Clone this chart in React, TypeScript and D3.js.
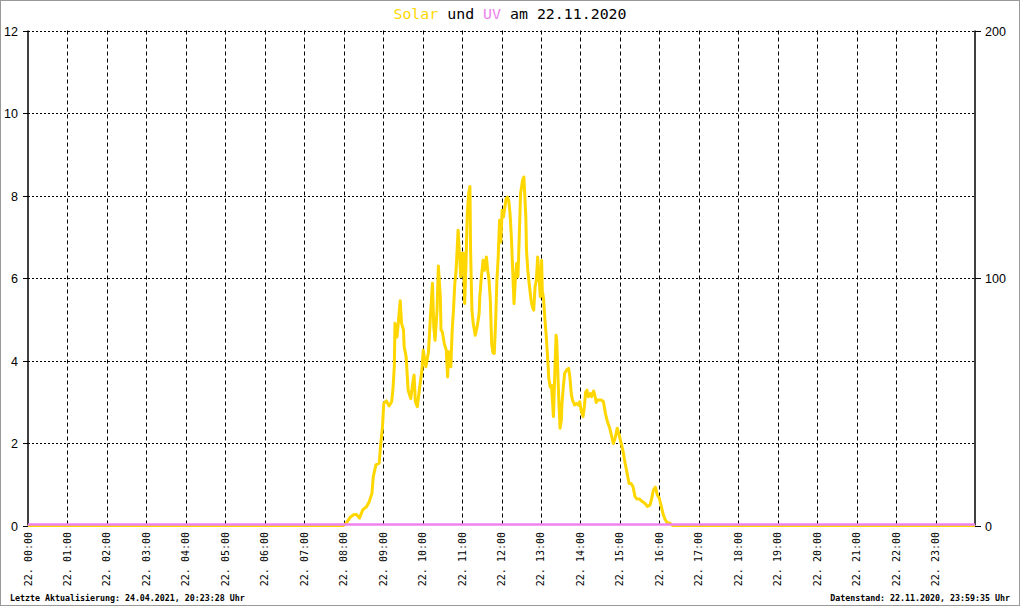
import React, { useEffect, useRef } from "react";
import * as d3 from "d3";

const hourLabels: string[] = [
  "22. 00:00", "22. 01:00", "22. 02:00", "22. 03:00", "22. 04:00", "22. 05:00",
  "22. 06:00", "22. 07:00", "22. 08:00", "22. 09:00", "22. 10:00", "22. 11:00",
  "22. 12:00", "22. 13:00", "22. 14:00", "22. 15:00", "22. 16:00", "22. 17:00",
  "22. 18:00", "22. 19:00", "22. 20:00", "22. 21:00", "22. 22:00", "22. 23:00",
];
const leftTicks: number[] = [0, 2, 4, 6, 8, 10, 12];
const rightTicks: number[] = [0, 100, 200];

const solarTimes: string[] = [
  "00:00", "08:00", "08:05", "08:10", "08:15", "08:19", "08:24", "08:29", "08:35", "08:39",
  "08:43", "08:45", "08:49", "08:54", "08:56", "08:59", "09:01", "09:05", "09:09", "09:13",
  "09:15", "09:17", "09:18", "09:21", "09:23", "09:26", "09:28", "09:31", "09:32", "09:35",
  "09:38", "09:42", "09:45", "09:47", "09:49", "09:52", "09:55", "09:59", "10:01", "10:05",
  "10:09", "10:12", "10:15", "10:17", "10:19", "10:22", "10:24", "10:27", "10:28", "10:30",
  "10:33", "10:36", "10:38", "10:40", "10:43", "10:45", "10:47", "10:49", "10:51", "10:54",
  "10:56", "10:58", "11:00", "11:02", "11:04", "11:06", "11:08", "11:10", "11:12", "11:13",
  "11:15", "11:17", "11:20", "11:23", "11:26", "11:27", "11:29", "11:32", "11:34", "11:37",
  "11:39", "11:41", "11:43", "11:45", "11:47", "11:49", "11:51", "11:53", "11:55", "11:57",
  "11:59", "12:01", "12:03", "12:07", "12:09", "12:11", "12:13", "12:15", "12:17", "12:19",
  "12:21", "12:23", "12:25", "12:27", "12:29", "12:32", "12:34", "12:35", "12:37", "12:38",
  "12:40", "12:42", "12:45", "12:47", "12:49", "12:51", "12:53", "12:55", "12:57", "12:59",
  "13:01", "13:02", "13:04", "13:06", "13:08", "13:10", "13:12", "13:14", "13:16", "13:19",
  "13:21", "13:23", "13:24", "13:26", "13:28", "13:29", "13:31", "13:32", "13:34", "13:36",
  "13:39", "13:42", "13:44", "13:46", "13:48", "13:51", "13:54", "13:57", "13:59", "14:01",
  "14:04", "14:06", "14:08", "14:10", "14:12", "14:15", "14:17", "14:20", "14:22", "14:24",
  "14:26", "14:29", "14:32", "14:35", "14:38", "14:41", "14:44", "14:47", "14:50", "14:53",
  "14:56", "14:59", "15:02", "15:05", "15:08", "15:11", "15:14", "15:17", "15:20", "15:23",
  "15:26", "15:30", "15:34", "15:38", "15:42", "15:46", "15:49", "15:51", "15:54", "15:57",
  "16:00", "16:03", "16:06", "16:09", "16:12", "16:16", "16:20", "24:00",
];
const solarValues: number[] = [
  0, 0, 0.08, 0.2, 0.26, 0.27, 0.18, 0.38, 0.46, 0.58,
  0.78, 1.18, 1.47, 1.51, 1.91, 2.39, 2.96, 3.02, 2.9, 3.0,
  3.32, 3.85, 4.9, 4.57, 4.9, 5.45, 4.9, 4.74, 4.33, 4.09,
  3.28, 3.08, 3.45, 3.65, 3.0, 2.88, 3.28, 3.77, 4.25, 3.85,
  4.21, 5.1, 5.87, 4.82, 4.49, 5.22, 6.29, 5.54, 4.74, 4.7,
  4.41, 4.25, 3.6, 4.21, 3.85, 4.74, 5.22, 5.87, 6.2, 7.16,
  6.6, 6.03, 6.6, 6.6, 5.38, 6.35, 7.56, 8.05, 8.22, 6.67,
  5.22, 4.9, 4.61, 4.82, 5.14, 5.54, 5.95, 6.43, 6.19, 6.51,
  6.19, 5.95, 5.46, 4.41, 4.19, 4.17, 4.9, 5.95, 6.51, 7.4,
  6.87, 7.64, 7.48, 7.92, 7.96, 7.88, 7.56, 7.0, 6.19, 5.38,
  5.95, 6.35, 6.03, 7.0, 8.05, 8.37, 8.45, 8.13, 7.48, 6.67,
  6.19, 5.87, 5.46, 5.3, 5.22, 5.78, 5.95, 6.51, 6.03, 5.54,
  6.43, 5.7, 5.5, 5.0, 4.6, 4.1, 3.55, 3.36, 3.4, 2.64,
  3.69, 4.61, 4.49, 3.53, 2.72, 2.36, 2.56, 2.96, 3.36, 3.69,
  3.77, 3.81, 3.6, 3.2, 3.04, 2.92, 2.96, 2.92, 3.0, 2.8,
  2.64, 2.88, 3.24, 3.28, 3.12, 3.2, 3.12, 3.26, 3.16, 2.98,
  3.04, 3.04, 3.04, 3.0, 2.72, 2.52, 2.39, 2.2, 1.99, 2.13,
  2.36, 2.19, 1.99, 1.79, 1.51, 1.27, 1.02, 1.02, 0.94, 0.7,
  0.64, 0.64, 0.58, 0.54, 0.46, 0.5, 0.7, 0.86, 0.93, 0.74,
  0.66, 0.46, 0.26, 0.14, 0.07, 0.06, 0, 0,
];
const uvTimes: string[] = ["00:00", "24:00"];
const uvValues: number[] = [0, 0];

const toMin = (s: string) => {
  const [h, m] = s.split(":").map(Number);
  return h * 60 + m;
};

export default function App() {
  const ref = useRef<SVGSVGElement>(null);
  useEffect(() => {
    const W = 1020, H = 606;
    const L = 28, R = 975, T = 30.5, B = 525.5;
    const svg = d3.select(ref.current);
    svg.selectAll("*").remove();

    const x = d3.scaleLinear().domain([0, 1440]).range([L, R]);
    const y = d3.scaleLinear().domain([0, 12]).range([B, T]);
    const y2 = d3.scaleLinear().domain([0, 200]).range([B, T]);

    svg.append("rect").attr("x", 0).attr("y", 0).attr("width", W).attr("height", H).attr("fill", "#fff");
    svg.append("rect").attr("x", 0.5).attr("y", 0.5).attr("width", W - 1).attr("height", H - 1)
      .attr("fill", "none").attr("stroke", "#999").attr("stroke-width", 1);

    // horizontal dotted grid
    leftTicks.filter((t) => t > 0).forEach((t) => {
      svg.append("line").attr("x1", L).attr("x2", R).attr("y1", Math.round(y(t)) + 0.5).attr("y2", Math.round(y(t)) + 0.5)
        .attr("stroke", "#000").attr("stroke-width", 1).attr("stroke-dasharray", "2,2");
    });
    // vertical dashed grid
    hourLabels.forEach((_, i) => {
      if (i === 0) return;
      const xx = Math.round(x(i * 60)) + 0.5;
      svg.append("line").attr("x1", xx).attr("x2", xx).attr("y1", T).attr("y2", B)
        .attr("stroke", "#000").attr("stroke-width", 1).attr("stroke-dasharray", "4,3");
    });

    // axes
    svg.append("line").attr("x1", L).attr("x2", L).attr("y1", T).attr("y2", B).attr("stroke", "#000").attr("stroke-width", 1.5);
    svg.append("line").attr("x1", R).attr("x2", R).attr("y1", T).attr("y2", B).attr("stroke", "#000").attr("stroke-width", 1.5);

    const font = "'Liberation Sans', Arial, sans-serif";
    leftTicks.forEach((t) => {
      const yy = Math.round(y(t)) + 0.5;
      svg.append("line").attr("x1", L - 5).attr("x2", L).attr("y1", yy).attr("y2", yy).attr("stroke", "#000");
      svg.append("text").attr("x", 18).attr("y", yy + 4.5).attr("text-anchor", "end")
        .attr("font-family", font).attr("font-size", 12.5).attr("fill", "#000").text(String(t));
    });
    rightTicks.forEach((t) => {
      const yy = Math.round(y2(t)) + 0.5;
      svg.append("line").attr("x1", R).attr("x2", R + 6).attr("y1", yy).attr("y2", yy).attr("stroke", "#000");
      svg.append("text").attr("x", 985).attr("y", yy + 4.5).attr("text-anchor", "start")
        .attr("font-family", font).attr("font-size", 12.5).attr("fill", "#000").text(String(t));
    });

    const mono = "'DejaVu Sans Mono', monospace";
    hourLabels.forEach((lab, i) => {
      const xx = x(i * 60);
      svg.append("text").attr("transform", `translate(${xx + 3.5},532) rotate(-90)`)
        .attr("text-anchor", "end").attr("font-family", mono).attr("font-size", 10)
        .attr("fill", "#000").text(lab);
    });

    // series
    const line = d3.line<[number, number]>().x((d) => x(d[0])).y((d) => y(d[1]));
    const solar: [number, number][] = solarTimes.map((t, i) => [toMin(t), solarValues[i]]);
    svg.append("path").attr("d", line(solar) as string).attr("fill", "none")
      .attr("stroke", "#FFD700").attr("stroke-width", 3).attr("stroke-linejoin", "round");
    const uvLine = d3.line<[number, number]>().x((d) => x(d[0])).y((d) => y2(d[1]) - 1);
    const uv: [number, number][] = uvTimes.map((t, i) => [toMin(t), uvValues[i]]);
    svg.append("path").attr("d", uvLine(uv) as string).attr("fill", "none")
      .attr("stroke", "#EE82EE").attr("stroke-width", 2.5);

    // title
    const title = svg.append("text").attr("x", 510).attr("y", 19).attr("text-anchor", "middle")
      .attr("font-family", mono).attr("font-size", 14.9);
    title.append("tspan").attr("fill", "#FFD700").text("Solar");
    title.append("tspan").attr("fill", "#000").text(" und ");
    title.append("tspan").attr("fill", "#EE82EE").text("UV");
    title.append("tspan").attr("fill", "#000").text(" am 22.11.2020");

    // footers
    svg.append("text").attr("x", 10).attr("y", 601).attr("font-family", mono).attr("font-size", 8.3)
      .attr("font-weight", "bold").attr("fill", "#000").text("Letzte Aktualisierung: 24.04.2021, 20:23:28 Uhr");
    svg.append("text").attr("x", 1010).attr("y", 601).attr("text-anchor", "end").attr("font-family", mono)
      .attr("font-size", 8.3).attr("font-weight", "bold").attr("fill", "#000")
      .text("Datenstand: 22.11.2020, 23:59:35 Uhr");
  }, []);
  return (
    <svg ref={ref} width={1020} height={606} style={{ position: "absolute", left: 0, top: 0, display: "block" }} />
  );
}
